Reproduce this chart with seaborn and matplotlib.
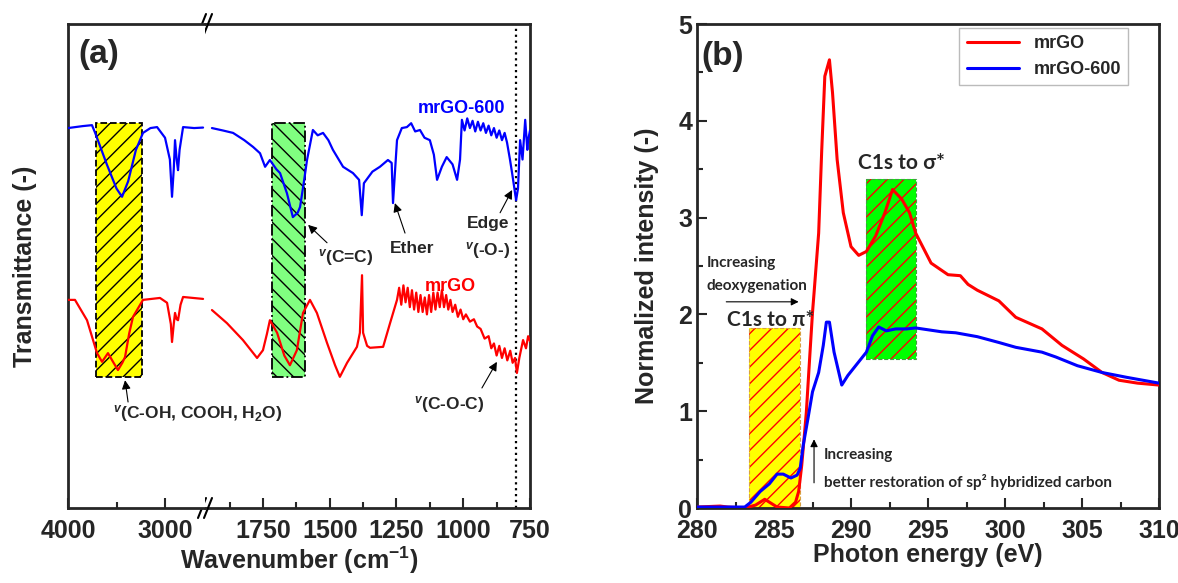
import numpy as np
import pandas as pd
import matplotlib
matplotlib.use("Agg")
import matplotlib.pyplot as plt
import seaborn as sns
from matplotlib.patches import Rectangle

# ---------------- data ----------------
# FTIR, mrGO-600 (blue) high-wavenumber segment
blue_hi_wn = [4000, 3850, 3753, 3720, 3600, 3500, 3443, 3380, 3300, 3227, 3150, 3082, 3000, 2950, 2928,
              2910, 2897, 2880, 2866, 2850, 2814, 2700, 2608]
blue_hi_t = [78.5, 78.9, 79.1, 77.5, 71.0, 66.0, 64.3, 67.5, 74.0, 77.5, 78.5, 78.7, 76.5, 72.0, 64.3,
             70.0, 76.0, 72.0, 69.8, 74.0, 78.7, 78.5, 78.6]
# FTIR, mrGO-600 (blue) low-wavenumber segment
blue_lo_wn = [1941, 1900, 1862, 1820, 1787, 1761, 1742, 1724, 1700, 1686, 1660, 1638, 1620, 1611, 1595,
              1585, 1563, 1545, 1525, 1505, 1488, 1450, 1413, 1390, 1380, 1372, 1340, 1312, 1282, 1268,
              1263, 1255, 1248, 1230, 1211, 1195, 1180, 1162, 1145, 1125, 1110, 1098, 1080, 1062, 1040,
              1023, 1012, 1005, 995, 985, 975, 965, 955, 945, 935, 925, 915, 905, 895, 885, 875, 865,
              855, 845, 836, 825, 817, 802, 795, 787, 778, 768, 760, 757, 750]
blue_lo_t = [78.5, 78.0, 77.5, 76.0, 74.6, 73.3, 70.5, 71.9, 70.0, 69.2, 65.0, 60.1, 61.0, 62.2, 68.0,
             71.9, 78.1, 77.0, 77.5, 76.0, 74.0, 70.5, 69.2, 67.8, 60.5, 67.1, 69.5, 70.5, 71.9, 71.3,
             63.0, 70.0, 76.0, 78.5, 78.7, 79.5, 77.8, 78.1, 76.5, 76.0, 73.0, 67.8, 70.5, 72.5, 71.0,
             67.8, 72.0, 80.2, 78.0, 80.5, 78.5, 80.0, 77.8, 79.8, 78.0, 79.5, 77.5, 79.0, 77.0, 78.5,
             76.5, 78.0, 76.0, 77.5, 75.5, 72.0, 69.2, 63.6, 66.0, 76.0, 72.0, 80.2, 74.0, 76.0, 78.0]
# FTIR, mrGO (red) high-wavenumber segment
red_hi_wn = [4000, 3928, 3804, 3701, 3649, 3588, 3530, 3485, 3440, 3412, 3370, 3330, 3227, 3052, 2979,
             2940, 2928, 2910, 2897, 2880, 2866, 2840, 2814, 2608]
red_hi_t = [43.0, 43.0, 38.8, 32.0, 30.2, 32.0, 30.0, 28.5, 30.0, 31.2, 36.0, 39.5, 43.0, 43.4, 42.4,
            38.0, 34.3, 38.0, 40.3, 39.0, 38.8, 42.0, 43.6, 43.2]
# FTIR, mrGO (red) low-wavenumber segment
red_lo_wn = [1941, 1885, 1825, 1772, 1750, 1735, 1724, 1697, 1670, 1649, 1623, 1600, 1574, 1548, 1510,
             1480, 1462, 1435, 1398, 1387, 1379, 1375, 1360, 1349, 1300, 1274, 1248, 1240, 1232, 1224,
             1216, 1208, 1200, 1192, 1184, 1176, 1168, 1160, 1152, 1144, 1136, 1128, 1120, 1112, 1104,
             1096, 1088, 1080, 1072, 1064, 1056, 1048, 1040, 1030, 1020, 1010, 1000, 990, 975, 960,
             948, 935, 920, 905, 895, 885, 875, 865, 855, 845, 835, 824, 815, 806, 799, 790, 776,
             765, 757, 750]
red_lo_t = [40.9, 38.2, 34.7, 31.0, 32.6, 36.0, 38.8, 36.2, 31.5, 29.5, 32.6, 40.3, 43.0, 40.3, 34.1,
            29.5, 27.1, 30.0, 33.3, 36.2, 48.1, 36.2, 33.5, 33.1, 33.3, 38.2, 43.0, 45.5, 42.0, 46.0,
            42.5, 45.5, 41.5, 45.0, 41.0, 44.5, 40.5, 44.0, 40.5, 43.5, 40.0, 44.0, 40.5, 44.5, 41.0,
            44.5, 41.5, 45.0, 41.5, 44.0, 41.0, 43.0, 40.5, 42.0, 39.5, 41.0, 39.0, 40.0, 38.5, 39.0,
            37.5, 37.0, 35.0, 35.5, 33.0, 34.0, 31.5, 33.5, 31.0, 33.0, 30.5, 32.5, 30.0, 31.0, 27.9,
            31.0, 34.7, 33.0, 35.5, 34.5]

# XANES
xanes_red_e = [280.0, 281.5, 282.0, 283.1, 283.8, 284.4, 284.7, 285.2, 286.0, 286.4, 286.6, 286.8, 287.1,
               287.3, 287.5, 287.6, 287.9, 288.1, 288.3, 288.6, 288.8, 289.1, 289.5, 290.0, 290.5, 291.0,
               291.6, 292.2, 292.7, 293.3, 293.8, 294.2, 295.2, 296.3, 297.1, 297.6, 298.2, 299.6, 300.7,
               302.4, 303.7, 305.1, 306.3, 307.4, 308.6, 310.0]
xanes_red_i = [0.01, 0.02, 0.01, 0.00, 0.03, 0.09, 0.06, 0.01, 0.00, 0.06, 0.17, 0.44, 0.99,
               1.51, 2.02, 2.22, 2.84, 3.70, 4.46, 4.63, 4.29, 3.60, 3.05, 2.70, 2.61, 2.65,
               2.81, 3.05, 3.29, 3.19, 3.05, 2.84, 2.53, 2.41, 2.40, 2.31, 2.25, 2.14, 1.97,
               1.85, 1.68, 1.54, 1.40, 1.32, 1.29, 1.27]
xanes_blue_e = [280.0, 283.1, 283.5, 284.1, 284.7, 285.2, 285.6, 286.1, 286.5, 286.7, 286.9, 287.2, 287.5,
                287.9, 288.2, 288.4, 288.6, 288.9, 289.4, 289.8, 290.5, 291.0, 291.4, 291.8, 292.3, 292.9,
                293.6, 294.2, 295.9, 296.8, 298.2, 299.6, 300.7, 302.4, 303.3, 304.7, 306.3, 307.9, 310.0]
xanes_blue_i = [0.01, 0.01, 0.06, 0.17, 0.25, 0.35, 0.35, 0.31, 0.34, 0.41, 0.65, 0.92, 1.20,
                1.40, 1.68, 1.92, 1.92, 1.61, 1.27, 1.37, 1.51, 1.61, 1.78, 1.87, 1.83, 1.85,
                1.85, 1.86, 1.82, 1.81, 1.77, 1.71, 1.66, 1.61, 1.56, 1.47, 1.40, 1.35, 1.29]

# ---------------- style ----------------
sns.set_theme(style="ticks")
plt.rcParams['font.family'] = ['Liberation Sans', 'DejaVu Sans']
plt.rcParams['font.weight'] = 'bold'
plt.rcParams['axes.labelweight'] = 'bold'
plt.rcParams['mathtext.fontset'] = 'custom'
plt.rcParams['mathtext.rm'] = 'Liberation Sans:bold'
plt.rcParams['mathtext.bf'] = 'Liberation Sans:bold'
plt.rcParams['mathtext.it'] = 'Liberation Sans:bold:italic'
plt.rcParams['hatch.linewidth'] = 1.0
plt.rcParams['axes.linewidth'] = 2.0

W, H = 1178, 583
fig = plt.figure(figsize=(W / 100, H / 100), dpi=100)
ax1 = fig.add_axes([68 / W, 75 / H, 137 / W, 484 / H])
ax2 = fig.add_axes([205 / W, 75 / H, 325 / W, 484 / H])
ax3 = fig.add_axes([697 / W, 75 / H, 462 / W, 484 / H])
ax1.set_zorder(3)
ax2.set_zorder(2)

BLUE = '#0000ff'
RED = '#ff0000'

# ---------------- panel (a) ----------------
for ax, (bw, bt, rw, rt) in zip([ax1, ax2], [(blue_hi_wn, blue_hi_t, red_hi_wn, red_hi_t),
                                           (blue_lo_wn, blue_lo_t, red_lo_wn, red_lo_t)]):
    sns.lineplot(x=bw, y=bt, ax=ax, color=BLUE, lw=1.6, estimator=None, sort=False, zorder=3)
    sns.lineplot(x=rw, y=rt, ax=ax, color=RED, lw=1.6, estimator=None, sort=False, zorder=3)
    ax.set_ylim(0, 100)
    ax.set_yticks([])
    ax.set_ylabel('')
    ax.tick_params(axis='x', which='both', direction='in', width=1.5, labelsize=18, pad=8)
    ax.tick_params(axis='x', which='major', length=7)
    ax.tick_params(axis='x', which='minor', length=4)

ax1.set_xlim(4000, 2588)
ax2.set_xlim(1967, 750)
ax1.set_xticks([4000, 3000])
ax1.set_xticks([3500], minor=True)
ax2.set_xticks([1750, 1500, 1250, 1000, 750])
ax2.set_xticks([1875, 1625, 1375, 1125, 875], minor=True)
ax1.spines['right'].set_visible(False)
ax2.spines['left'].set_visible(False)
ax2.tick_params(axis='y', left=False)

# highlighted bands
ax1.add_patch(Rectangle((3711, 27.1), 3237 - 3711, 79.5 - 27.1, facecolor='#ffff00', edgecolor='black',
                        hatch='//', linestyle='--', lw=1.3, zorder=1))
ax2.add_patch(Rectangle((1716, 27.1), 1593 - 1716, 79.5 - 27.1, facecolor='#80ff80', edgecolor='black',
                        hatch='\\\\', linestyle='-.', lw=1.3, zorder=1))
ax2.axvline(802, color='black', ls=':', lw=1.6, zorder=2)

# break marks
for yb in (0, 1):
    for off in (-3, 3):
        ax2.plot([(off - 4) / 325, (off + 4) / 325], [yb - 10 / 484, yb + 10 / 484], color='black', lw=1.5,
                 transform=ax2.transAxes, clip_on=False, zorder=5)

arrow = dict(arrowstyle='-|>', color='black', lw=0.8, mutation_scale=13, shrinkA=0, shrinkB=0)
ax1.text(0.073, 0.936, '(a)', transform=ax1.transAxes, fontsize=24, va='center', ha='left')
ax2.text(844, 82.6, 'mrGO-600', color=BLUE, fontsize=13, ha='right', va='center')
ax2.text(1050, 45.7, 'mrGO', color=RED, fontsize=13, ha='center', va='center')
ax2.annotate('', xy=(1581, 58.5), xytext=(1510, 54.8), arrowprops=arrow)
ax2.text(1544, 51.7, r'$^{v}$(C=C)', fontsize=12.5, ha='left', va='center')
ax2.annotate('', xy=(1256, 63.0), xytext=(1218, 56.8), arrowprops=arrow)
ax2.text(1192, 53.7, 'Ether', fontsize=12.5, ha='center', va='center')
ax2.annotate('', xy=(817, 65.7), xytext=(862, 61.0), arrowprops=arrow)
ax2.text(907, 58.7, 'Edge', fontsize=12.5, ha='center', va='center')
ax2.text(907, 53.3, r'$^{v}$(-O-)', fontsize=12.5, ha='center', va='center')
ax2.annotate('', xy=(874, 30.2), xytext=(930, 24.8), arrowprops=arrow)
ax2.text(1185, 21.3, r'$^{v}$(C-O-C)', fontsize=12.5, ha='left', va='center')
ax1.annotate('', xy=(3412, 26.4), xytext=(3381, 21.9), arrowprops=arrow)
ax1.text(3535, 19.6, r'$^{v}$(C-OH, COOH, H$_2$O)', fontsize=12.5, ha='left', va='center')

ax1.set_ylabel('Transmittance (-)', fontsize=18, labelpad=22)
ax1.set_xlabel('')
ax2.set_xlabel('')
fig.text(299 / W, 1 - 560 / H, r'Wavenumber (cm$^{-1}$)', fontsize=18, ha='center', va='center')

# ---------------- panel (b) ----------------
sns.lineplot(x=xanes_red_e, y=xanes_red_i, ax=ax3, color=RED, lw=2.2, estimator=None, sort=False,
             label='mrGO', zorder=3)
sns.lineplot(x=xanes_blue_e, y=xanes_blue_i, ax=ax3, color=BLUE, lw=2.2, estimator=None, sort=False,
             label='mrGO-600', zorder=3)
ax3.set_xlim(280, 310)
ax3.set_ylim(0, 5)
ax3.set_xticks(np.arange(280, 311, 5))
ax3.set_xticks(np.arange(282.5, 310, 5), minor=True)
ax3.set_yticks(np.arange(0, 6, 1))
ax3.set_yticks(np.arange(0.5, 5, 1), minor=True)
ax3.tick_params(which='both', direction='in', width=1.5, labelsize=18)
ax3.tick_params(which='major', length=7)
ax3.tick_params(which='minor', length=4)
ax3.tick_params(axis='x', pad=8)
ax3.set_xlabel('Photon energy (eV)', fontsize=18, labelpad=0)
ax3.set_ylabel('Normalized intensity (-)', fontsize=18, labelpad=14)

ax3.add_patch(Rectangle((283.4, 0), 3.27, 1.86, facecolor='#ffff00', edgecolor=RED, hatch='//', lw=0, zorder=1))
ax3.add_patch(Rectangle((283.4, 0), 3.27, 1.86, fill=False, edgecolor='#d8a040', ls='--', lw=0.8, zorder=1))
ax3.add_patch(Rectangle((291.0, 1.54), 3.25, 1.86, facecolor='#00ff00', edgecolor=RED, hatch='//', lw=0, zorder=1))
ax3.add_patch(Rectangle((291.0, 1.54), 3.25, 1.86, fill=False, edgecolor='#40a040', ls='--', lw=0.8, zorder=1))

cal = ['Lato', 'DejaVu Sans']
ax3.text(280.3, 4.66, '(b)', fontsize=24, ha='left', va='center')
ax3.text(293.3, 3.56, 'C1s to σ*', fontsize=15, ha='center', va='center', family=cal, fontweight='bold')
ax3.text(284.8, 1.94, 'C1s to π*', fontsize=15, ha='center', va='center', family=cal, fontweight='bold')
ax3.text(280.64, 2.53, 'Increasing', fontsize=11, ha='left', va='center', family=cal, fontweight='bold')
ax3.text(280.64, 2.29, 'deoxygenation', fontsize=11, ha='left', va='center', family=cal, fontweight='bold')
ax3.annotate('', xy=(286.6, 2.13), xytext=(281.9, 2.13),
             arrowprops=dict(arrowstyle='-|>', color='black', lw=0.8, mutation_scale=11, shrinkA=0, shrinkB=0))
ax3.annotate('', xy=(287.6, 0.71), xytext=(287.6, 0.26),
             arrowprops=dict(arrowstyle='-|>', color='black', lw=0.8, mutation_scale=11, shrinkA=0, shrinkB=0))
ax3.text(288.24, 0.55, 'Increasing', fontsize=11, ha='left', va='center', family=cal, fontweight='bold')
ax3.text(288.24, 0.27, 'better restoration of sp² hybridized carbon', fontsize=11, ha='left', va='center',
         family=cal, fontweight='bold')

leg = ax3.legend(loc='upper right', bbox_to_anchor=(0.933, 0.992), frameon=True, fancybox=False,
                 edgecolor='#aaaaaa', prop={'weight': 'bold', 'size': 13}, handlelength=2.9,
                 borderaxespad=0)
leg.get_frame().set_linewidth(1.0)

fig.savefig('out.png', dpi=100)
